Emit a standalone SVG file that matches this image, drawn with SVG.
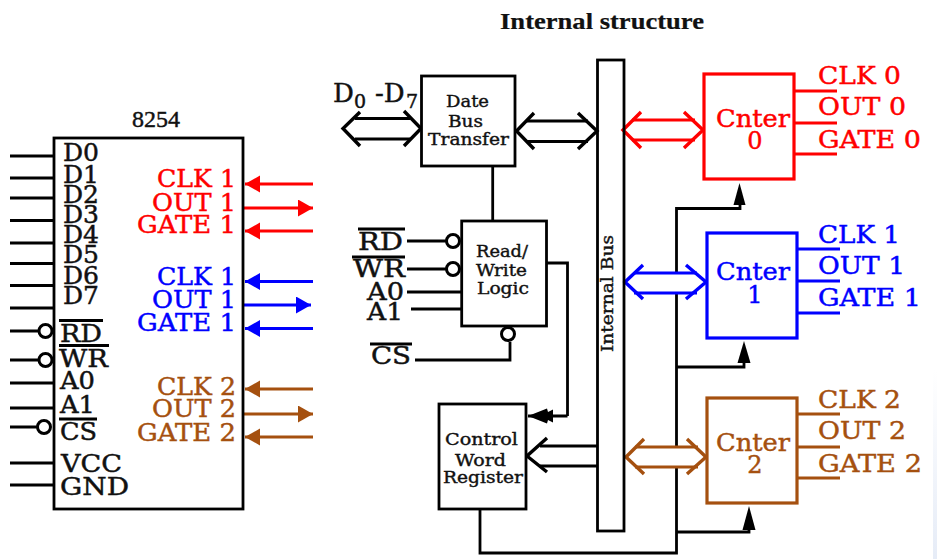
<svg xmlns="http://www.w3.org/2000/svg" width="937" height="559" viewBox="0 0 937 559">
<style>
text{font-family:"DejaVu Serif","Liberation Serif",serif;font-size:24px;fill:#111;stroke:#111;stroke-width:.45}
.s{font-size:16.5px;stroke-width:.4}
.t{font-family:"Liberation Serif",serif}
.r{fill:#ff0000;stroke:#ff0000}.b{fill:#0000ff;stroke:#0000ff}.o{fill:#a5500f;stroke:#a5500f}
.box{fill:#fff;stroke:#000;stroke-width:2.8}
.k,.kr,.kb,.ko{fill:none;stroke-width:2.8}
.k{stroke:#000}.kr{stroke:#ff0000}.kb{stroke:#0000ff}.ko{stroke:#a5500f}
.boxr{fill:#fff;stroke:#ff0000;stroke-width:3.2}
.boxb{fill:#fff;stroke:#0000ff;stroke-width:3.2}
.boxo{fill:#fff;stroke:#a5500f;stroke-width:3.2}
.h{stroke-width:3.4}
.c{fill:#fff;stroke:#000;stroke-width:3}
</style>
<defs>
<marker id="mr" markerUnits="userSpaceOnUse" markerWidth="16" markerHeight="18" refX="15" refY="8.5" orient="auto"><path d="M0 0L15 8.5L0 17Z" fill="#ff0000"/></marker>
<marker id="mb" markerUnits="userSpaceOnUse" markerWidth="16" markerHeight="18" refX="15" refY="8.5" orient="auto"><path d="M0 0L15 8.5L0 17Z" fill="#0000ff"/></marker>
<marker id="mo" markerUnits="userSpaceOnUse" markerWidth="16" markerHeight="18" refX="15" refY="8.5" orient="auto"><path d="M0 0L15 8.5L0 17Z" fill="#a5500f"/></marker>
<marker id="mk" markerUnits="userSpaceOnUse" markerWidth="26" markerHeight="16" refX="25" refY="7.5" orient="auto"><path d="M0 1L5 3.5L6 0L25 7.5L6 15L5 11.5L0 14Z" fill="#000"/></marker>
<linearGradient id="edge" x1="0" y1="0" x2="0" y2="1"><stop offset="0" stop-color="#fff"/><stop offset="1" stop-color="#e6ecf7"/></linearGradient>
</defs>
<rect width="937" height="559" fill="#fff"/>
<rect x="933" y="370" width="4" height="189" fill="url(#edge)"/>
<text id="title" class="t" x="500" y="29" font-weight="bold" style="font-size:23px;stroke-width:.2" textLength="204" lengthAdjust="spacingAndGlyphs">Internal structure</text>

<g id="connectors">
<path class="k" d="M10 156H54M10 178H54M10 198H54M10 220.5H54M10 243H54M10 263.5H54M10 285.5H54M10 308H54M10 331H40M10 360H40M10 383H54M10 408H54M10 427H39M10 463H54M10 485H54"/>
<path class="kr" d="M313 184H245" marker-end="url(#mr)"/>
<path class="kr" d="M243 208H313" marker-end="url(#mr)"/>
<path class="kr" d="M313 231H245" marker-end="url(#mr)"/>
<path class="kb" d="M313 281.5H245" marker-end="url(#mb)"/>
<path class="kb" d="M243 305H311" marker-end="url(#mb)"/>
<path class="kb" d="M313 328.5H245" marker-end="url(#mb)"/>
<path class="ko" d="M313 389H245" marker-end="url(#mo)"/>
<path class="ko" d="M243 414H313" marker-end="url(#mo)"/>
<path class="ko" d="M313 437H245" marker-end="url(#mo)"/>

<path class="k" d="M355 118.5H410M355 139H410"/>
<path class="k h" d="M360 112L343 128.5L360 146M404 111L421 128.5L404 146"/>
<path class="k" d="M527 121H588M527 141.5H588"/>
<path class="k h" d="M534 113L516.5 131L534 149M578 113L597 131L578 149"/>
<path class="k" d="M492.7 166V221"/>
<path class="k" d="M407 241H447M407 269H447M407 292H461M411 309H461M415 360H510V342"/>
<path class="k" d="M546 263H567.5V416" />
<path class="k" d="M567.5 416H528" marker-end="url(#mk)"/>
<path class="k" d="M540 446H597M540 466H597"/>
<path class="k h" d="M547 438L527 456L547 472"/>
<path class="k" d="M480 509V553H676.5V208.5H740V205M676.5 367H744V363M676.5 532H749V530"/>
<path d="M739.5 183L745.5 205L733.5 205Z" fill="#000"/>
<path d="M744 341L750.5 363L737.5 363Z" fill="#000"/>
<path d="M749 506L755.5 530L742.5 530Z" fill="#000"/>

<path class="kr" d="M632 120H695M632 140H695"/>
<path class="kr h" d="M641 112L623 130L641 148M684 112L703 130L684 148"/>
<rect x="632" y="274" width="63" height="18" fill="#fff"/>
<path class="kb" d="M634 273H697M634 293H697"/>
<path class="kb h" d="M643 265L625 282L643 299M686 265L706 282L686 299"/>
<rect x="635" y="448" width="63" height="18" fill="#fff"/>
<path class="ko" d="M635 447H698M635 467H698"/>
<path class="ko h" d="M644 439L626 457L644 474M687 439L706 457L687 474"/>

<path class="kr" d="M794 91H837M794 123H837M794 154H837"/>
<path class="kb" d="M797 249H840M797 281H840M797 313H840"/>
<path class="ko" d="M797 414H840M797 447H840M797 478H840"/>
</g>

<g id="chip-8254">
<rect class="box" x="54" y="138" width="189" height="371"/>
<text class="t" x="132" y="127">8254</text>
<g>
<text x="63" y="161" textLength="36" lengthAdjust="spacingAndGlyphs">D0</text>
<text x="63" y="183" textLength="36" lengthAdjust="spacingAndGlyphs">D1</text>
<text x="63" y="203" textLength="36" lengthAdjust="spacingAndGlyphs">D2</text>
<text x="63" y="223" textLength="36" lengthAdjust="spacingAndGlyphs">D3</text>
<text x="63" y="243" textLength="36" lengthAdjust="spacingAndGlyphs">D4</text>
<text x="63" y="263" textLength="36" lengthAdjust="spacingAndGlyphs">D5</text>
<text x="63" y="284" textLength="36" lengthAdjust="spacingAndGlyphs">D6</text>
<text x="63" y="304" textLength="36" lengthAdjust="spacingAndGlyphs">D7</text>
<text x="60" y="342" textLength="42" lengthAdjust="spacingAndGlyphs">RD</text>
<text x="59" y="367" textLength="49" lengthAdjust="spacingAndGlyphs">WR</text>
<text x="60" y="389" textLength="35" lengthAdjust="spacingAndGlyphs">A0</text>
<text x="60" y="413" textLength="35" lengthAdjust="spacingAndGlyphs">A1</text>
<text x="60" y="440" textLength="37" lengthAdjust="spacingAndGlyphs">CS</text>
<text x="61" y="472" textLength="61" lengthAdjust="spacingAndGlyphs">VCC</text>
<text x="60" y="495" textLength="69" lengthAdjust="spacingAndGlyphs">GND</text>
</g>
<path class="k" d="M59 320.5H103M59 345.5H109M59 419H97"/>
<circle class="c" cx="45.500" cy="331" r="6.500"/><circle class="c" cx="45.500" cy="360" r="6.500"/><circle class="c" cx="44" cy="427" r="6.500"/>
<text class="r" x="157" y="187" textLength="79" lengthAdjust="spacingAndGlyphs">CLK 1</text>
<text class="r" x="152" y="211" textLength="84" lengthAdjust="spacingAndGlyphs">OUT 1</text>
<text class="r" x="137" y="233" textLength="99" lengthAdjust="spacingAndGlyphs">GATE 1</text>
<text class="b" x="157" y="285" textLength="79" lengthAdjust="spacingAndGlyphs">CLK 1</text>
<text class="b" x="152" y="308" textLength="84" lengthAdjust="spacingAndGlyphs">OUT 1</text>
<text class="b" x="137" y="331" textLength="99" lengthAdjust="spacingAndGlyphs">GATE 1</text>
<text class="o" x="157" y="395" textLength="79" lengthAdjust="spacingAndGlyphs">CLK 2</text>
<text class="o" x="152" y="417" textLength="84" lengthAdjust="spacingAndGlyphs">OUT 2</text>
<text class="o" x="137" y="441" textLength="99" lengthAdjust="spacingAndGlyphs">GATE 2</text>
</g>

<g id="data-bus-label">
<text y="102" style="font-size:26px"><tspan x="333">D</tspan><tspan x="354" y="108" style="font-size:19px">0</tspan><tspan x="375" y="102" style="font-size:26px">-D</tspan><tspan x="406" y="108" style="font-size:19px">7</tspan></text>
</g>

<g id="data-bus-transfer">
<rect class="box" x="421.500" y="76" width="93.500" height="90"/>
<text class="s" x="446" y="107" textLength="43" lengthAdjust="spacingAndGlyphs">Date</text>
<text class="s" x="448" y="127" textLength="35" lengthAdjust="spacingAndGlyphs">Bus</text>
<text class="s" x="428" y="145" textLength="81" lengthAdjust="spacingAndGlyphs">Transfer</text>
</g>

<g id="read-write-logic">
<rect class="box" x="461.700" y="221" width="84.800" height="105"/>
<text class="s" x="476" y="257" textLength="52" lengthAdjust="spacingAndGlyphs">Read/</text>
<text class="s" x="476" y="276" textLength="51" lengthAdjust="spacingAndGlyphs">Write</text>
<text class="s" x="477" y="294" textLength="52" lengthAdjust="spacingAndGlyphs">Logic</text>
<circle class="c" cx="453" cy="241" r="6.500"/><circle class="c" cx="453" cy="269" r="6.500"/><circle class="c" cx="508" cy="334" r="6.500"/>
<text x="358" y="250" textLength="45" lengthAdjust="spacingAndGlyphs">RD</text>
<text x="353" y="277" textLength="52" lengthAdjust="spacingAndGlyphs">WR</text>
<text x="367" y="300" textLength="37" lengthAdjust="spacingAndGlyphs">A0</text>
<text x="367" y="320" textLength="36" lengthAdjust="spacingAndGlyphs">A1</text>
<text x="371" y="364" textLength="40" lengthAdjust="spacingAndGlyphs">CS</text>
<path class="k" d="M358 229H405M352 257H405M370 344H412"/>
</g>

<g id="control-word-register">
<rect class="box" x="439" y="404" width="87" height="105"/>
<text class="s" x="445" y="445" textLength="73" lengthAdjust="spacingAndGlyphs">Control</text>
<text class="s" x="455" y="466" textLength="51" lengthAdjust="spacingAndGlyphs">Word</text>
<text class="s" x="443" y="483" textLength="80" lengthAdjust="spacingAndGlyphs">Register</text>
</g>

<g id="internal-bus">
<rect class="box" x="597.500" y="60" width="26.500" height="471" style="fill:none"/>
<text class="s" x="0" y="0" transform="translate(613 352) rotate(-90)" textLength="117" lengthAdjust="spacingAndGlyphs">Internal Bus</text>
</g>

<g id="counter-0">
<rect class="boxr" x="704" y="74" width="90" height="105"/>
<text class="r" x="716" y="127" textLength="74" lengthAdjust="spacingAndGlyphs">Cnter</text>
<text class="r" x="755" y="149" text-anchor="middle">0</text>
<text class="r" x="818" y="84" textLength="83" lengthAdjust="spacingAndGlyphs">CLK 0</text>
<text class="r" x="818" y="115" textLength="88" lengthAdjust="spacingAndGlyphs">OUT 0</text>
<text class="r" x="818" y="148" textLength="103" lengthAdjust="spacingAndGlyphs">GATE 0</text>
</g>

<g id="counter-1">
<rect class="boxb" x="707" y="233" width="90" height="105"/>
<text class="b" x="716" y="280" textLength="74" lengthAdjust="spacingAndGlyphs">Cnter</text>
<text class="b" x="755" y="303" text-anchor="middle">1</text>
<text class="b" x="818" y="243" textLength="82" lengthAdjust="spacingAndGlyphs">CLK 1</text>
<text class="b" x="818" y="274" textLength="87" lengthAdjust="spacingAndGlyphs">OUT 1</text>
<text class="b" x="818" y="306" textLength="103" lengthAdjust="spacingAndGlyphs">GATE 1</text>
</g>

<g id="counter-2">
<rect class="boxo" x="707" y="398" width="90" height="105"/>
<text class="o" x="716" y="451" textLength="74" lengthAdjust="spacingAndGlyphs">Cnter</text>
<text class="o" x="755" y="473" text-anchor="middle">2</text>
<text class="o" x="818" y="408" textLength="83" lengthAdjust="spacingAndGlyphs">CLK 2</text>
<text class="o" x="818" y="439" textLength="88" lengthAdjust="spacingAndGlyphs">OUT 2</text>
<text class="o" x="818" y="472" textLength="104" lengthAdjust="spacingAndGlyphs">GATE 2</text>
</g>
</svg>
